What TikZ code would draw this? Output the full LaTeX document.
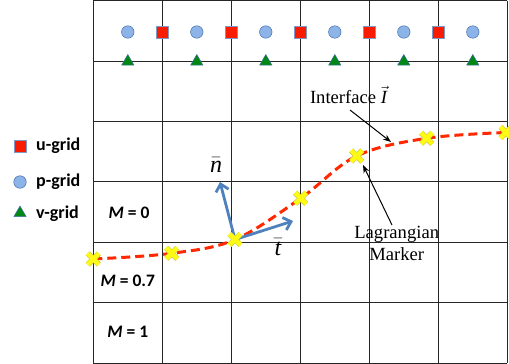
\documentclass[tikz,border=0pt]{standalone}
\usepackage{fontspec}
\setmainfont{Liberation Serif}
\newfontfamily\keyfont{Carlito}
\definecolor{ured}{RGB}{250, 28, 0}
\definecolor{pblue}{RGB}{140, 180, 232}
\definecolor{vgreen}{RGB}{0, 135, 20}
\definecolor{edgeblue}{RGB}{70, 110, 170}
\definecolor{curvered}{RGB}{255, 40, 0}
\definecolor{markyellow}{RGB}{255, 250, 20}
\definecolor{markedge}{RGB}{200, 200, 70}
\definecolor{vecblue}{RGB}{79, 129, 189}
\usetikzlibrary{arrows.meta, shapes.geometric, shapes.misc}
\tikzset{
	gridline/.style={line width=1pt, draw=black!85},
	usq/.style={rectangle, draw=edgeblue!70, fill=ured, line width=0.5pt, minimum size=11.5pt, inner sep=0pt},
	pdot/.style={circle, draw=edgeblue, fill=pblue, line width=0.5pt, minimum size=12.5pt, inner sep=0pt},
	vtri/.style={regular polygon, regular polygon sides=3, draw=edgeblue, fill=vgreen, line width=0.5pt, minimum size=14pt, inner sep=0pt},
	lmark/.style={cross out, draw=markedge, double=markyellow, double distance=4.4pt, line width=0.6pt, minimum size=10.5pt, inner sep=0pt},
	interface/.style={draw=curvered, line width=3pt, dash pattern=on 9pt off 5pt},
	vecarrow/.style={-{Straight Barb[length=7pt, width=13pt]}, line width=2.8pt, draw=vecblue},
	callout/.style={-{Stealth[length=8pt, width=6pt]}, line width=1pt},
	keytext/.style={font=\keyfont\bfseries\fontsize{18}{20}\selectfont, anchor=west, inner sep=0pt},
	mtext/.style={font=\keyfont\bfseries\fontsize{17.5}{20}\selectfont, inner sep=0pt},
	serif/.style={font=\fontsize{18.6}{22}\selectfont, align=center, inner sep=0pt},
	vectext/.style={font=\fontsize{24}{26}\selectfont, inner sep=0pt},
}
\begin{document}
\begin{tikzpicture}[x=1pt, y=-1pt]
	\useasboundingbox (0,0) rectangle (509,364);
	\foreach \i in {0,...,6} {
		\draw[gridline] (93.3+69*\i,0.7) -- (93.3+69*\i,363.1);
		\draw[gridline] (93.3,0.7+60.4*\i) -- (507.3,0.7+60.4*\i);
	}
	\foreach \k in {0,...,5} {
		\node[pdot] (p\k) at (127.8+69*\k,32) {};
		\node[vtri] (v\k) at (127.8+69*\k,61.5) {};
	}
	\foreach \k in {1,...,5}
		\node[usq] (u\k) at (93.3+69*\k,32) {};

	\node[usq] (ukey) at (20,146) {};
	\node[keytext] (utext) at (36,146) {u-grid};
	\node[pdot] (pkey) at (20,182) {};
	\node[keytext] (ptext) at (36,182) {p-grid};
	\node[vtri] (vkey) at (20,213) {};
	\node[keytext] (vtext) at (36,214) {v-grid};

	\node[mtext] (mzero) at (129,213) {\textit{M} = 0};
	\node[mtext] (mpart) at (127.8,281) {\textit{M} = 0.7};
	\node[mtext] (mone) at (127.8,332) {\textit{M} = 1};

	\coordinate (m1) at (93.3,259);
	\coordinate (m2) at (171.7,253.3);
	\coordinate (m3) at (235,239.5);
	\coordinate (m4) at (300.7,198.3);
	\coordinate (m5) at (356.7,156);
	\coordinate (m6) at (426.7,138.3);
	\coordinate (m7) at (506,132.5);
	\draw[interface] plot[smooth, tension=0.6] coordinates {(m1) (m2) (m3) (m4) (m5) (m6) (m7)};

	\coordinate (ntip) at (220,182);
	\coordinate (ttip) at (293,221);
	\draw[vecarrow] (m3) -- (ntip);
	\draw[vecarrow] (m3) -- (ttip);
	\foreach \m in {1,...,7}
		\node[lmark] (x\m) at (m\m) {};

	\node[vectext] (nlab) at (216,165) {$\bar{\textit{n}}$};
	\node[vectext] (tlab) at (278,247) {$\bar{\textit{t}}$};

	\node[serif] (ilab) at (348.5,95) {Interface $\vec{\textit{I}}$};
	\node[serif] (llab) at (396.7,243) {Lagrangian\\Marker};
	\coordinate (itail) at (350,110);
	\coordinate (ihead) at (391,142);
	\coordinate (ltail) at (392,225);
	\coordinate (lhead) at (363,165);
	\draw[callout] (itail) -- (ihead);
	\draw[callout] (ltail) -- (lhead);
\end{tikzpicture}
\end{document}
